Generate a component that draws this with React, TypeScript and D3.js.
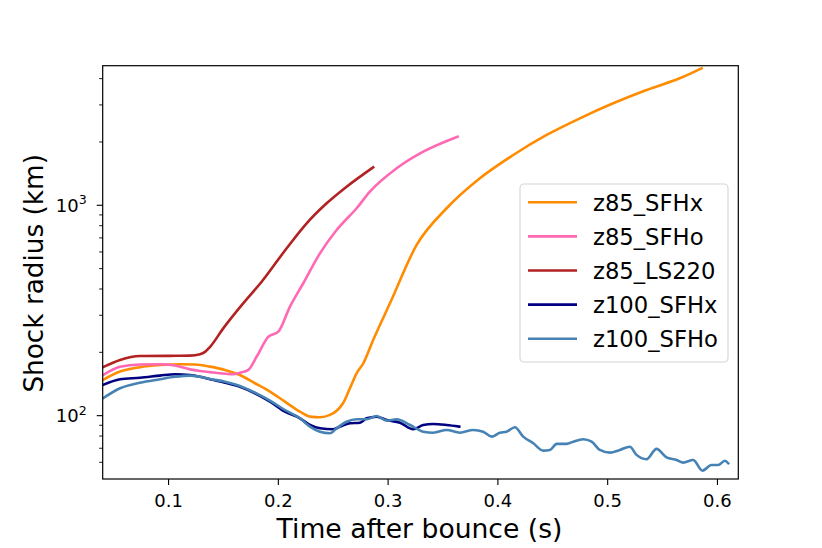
import React, { useRef, useEffect } from 'react';
import * as d3 from 'd3';

// shock radius curves (time in s, radius in km)
const z85SFHxTime = [0.0403, 0.0558, 0.074, 0.0922, 0.1104, 0.1241, 0.1377, 0.1514, 0.165, 0.1787, 0.1924, 0.206, 0.2197, 0.2288, 0.2379, 0.247, 0.2534, 0.2589, 0.2652, 0.2713, 0.2773, 0.2864, 0.3017, 0.326, 0.3533, 0.3836, 0.414, 0.4444, 0.4747, 0.505, 0.5354, 0.5656, 0.5855];
const z85SFHxRadius = [148, 162, 170, 174, 175.5, 175, 171, 165, 156, 142.6, 130, 116.6, 104.5, 99, 98.3, 100.8, 105.8, 114.6, 135, 159, 177, 229, 342, 648, 968, 1344, 1734, 2159, 2591, 3053, 3532, 4015, 4480];

const z85SFHoTime = [0.0403, 0.0558, 0.074, 0.0922, 0.1058, 0.1195, 0.1286, 0.1377, 0.1468, 0.1587, 0.165, 0.1726, 0.1803, 0.1908, 0.2, 0.2106, 0.2227, 0.2379, 0.2531, 0.2713, 0.2834, 0.3078, 0.332, 0.3633];
const z85SFHoRadius = [156, 171, 175, 175.5, 173, 166, 163, 161, 159, 157.4, 160, 165, 191, 237, 251, 330, 426, 591, 763, 968, 1160, 1499, 1798, 2119];

const z85LS220Time = [0.0403, 0.0558, 0.074, 0.1013, 0.1195, 0.1286, 0.1332, 0.1377, 0.1498, 0.168, 0.1848, 0.2076, 0.2258, 0.244, 0.2622, 0.2864];
const z85LS220Radius = [170, 184, 192, 192.5, 193, 196, 201, 212, 260, 342, 433, 625, 821, 1022, 1226, 1516];

const z100SFHxTime = [0.0403, 0.0558, 0.074, 0.0922, 0.1058, 0.1195, 0.1286, 0.1377, 0.1514, 0.165, 0.1787, 0.1924, 0.206, 0.2197, 0.2288, 0.2379, 0.25, 0.2561, 0.2652, 0.2743, 0.2804, 0.2895, 0.2987, 0.3108, 0.3229, 0.332, 0.3411, 0.3533, 0.3648];
const z100SFHxRadius = [140, 149, 151.5, 155, 157.4, 156, 153, 149, 143.5, 137.3, 127.8, 116.6, 104.5, 97.2, 90.3, 87.1, 86.2, 88.7, 92, 92.6, 97.2, 98.9, 95.4, 92.6, 86.2, 90.3, 91.3, 90.3, 88.7];

const z100SFHoTime = [0.0403, 0.0558, 0.074, 0.0922, 0.1058, 0.1195, 0.1286, 0.1377, 0.1514, 0.165, 0.1787, 0.1924, 0.206, 0.2197, 0.2288, 0.2379, 0.247, 0.2531, 0.2622, 0.2713, 0.2804, 0.2895, 0.2987, 0.3078, 0.3199, 0.332, 0.3411, 0.3533, 0.3654, 0.3775, 0.3866, 0.3943, 0.4018, 0.4079, 0.4155, 0.4231, 0.4322, 0.4413, 0.4474, 0.4535, 0.4626, 0.4686, 0.4777, 0.4854, 0.4929, 0.502, 0.5111, 0.5202, 0.5263, 0.5354, 0.5445, 0.5536, 0.5628, 0.5688, 0.5779, 0.5864, 0.5946, 0.6007, 0.6068, 0.6098];
const z100SFHoRadius = [121, 135, 143.5, 149, 153, 155, 153, 149.4, 145, 138.4, 128.6, 117.8, 106.4, 97.2, 88.7, 83.9, 82.5, 87.1, 93.6, 96.1, 96.1, 99.7, 94.7, 96.1, 90.3, 83.9, 83, 85.5, 83, 85.5, 83.9, 79.5, 83, 83.9, 88.1, 79.5, 73.9, 68.2, 68.7, 73.4, 73.4, 75.2, 77.2, 75.2, 68.7, 66.7, 68.7, 71.2, 65.1, 62.1, 69.5, 63.4, 61.6, 59.8, 61.6, 54.8, 58.3, 58.3, 61.1, 59.4];

const seriesNames = ['z85_SFHx', 'z85_SFHo', 'z85_LS220', 'z100_SFHx', 'z100_SFHo'];
const seriesColors = ['#ff8c00', '#ff69b4', '#b22222', '#000080', '#4682b4'];
const seriesTimes = [z85SFHxTime, z85SFHoTime, z85LS220Time, z100SFHxTime, z100SFHoTime];
const seriesRadii = [z85SFHxRadius, z85SFHoRadius, z85LS220Radius, z100SFHxRadius, z100SFHoRadius];

const xTicks = [0.1, 0.2, 0.3, 0.4, 0.5, 0.6];
const yMajorTicks = [100, 1000];
const yMinorTicks = [60, 70, 80, 90, 200, 300, 400, 500, 600, 700, 800, 900, 2000, 3000, 4000];

const FONT = '"DejaVu Sans", sans-serif';

const App: React.FC = () => {
    const svgRef = useRef<SVGSVGElement | null>(null);

    useEffect(() => {
        if (!svgRef.current) return;
        const svg = d3.select(svgRef.current);
        svg.selectAll('*').remove();

        const left = 102.7, right = 738.3, top = 65.7, bottom = 479;

        const x = d3.scaleLinear().domain([0.04, 0.619]).range([left, right]);
        const y = d3.scaleLog().domain([50, 4608]).range([bottom, top]);

        svg.append('rect').attr('width', 822).attr('height', 548).attr('fill', '#fff');

        svg.append('clipPath').attr('id', 'plotClip')
            .append('rect')
            .attr('x', left).attr('y', top)
            .attr('width', right - left).attr('height', bottom - top);

        // curves
        const line = d3.line<[number, number]>()
            .x(d => x(d[0]))
            .y(d => y(d[1]))
            .curve(d3.curveMonotoneX);

        const plot = svg.append('g').attr('clip-path', 'url(#plotClip)');
        seriesNames.forEach((name, i) => {
            const pts = seriesTimes[i].map((t, j) => [t, seriesRadii[i][j]] as [number, number]);
            plot.append('path')
                .datum(pts)
                .attr('d', line)
                .attr('fill', 'none')
                .attr('stroke', seriesColors[i])
                .attr('stroke-width', 2.6)
                .attr('stroke-linejoin', 'round')
                .attr('stroke-linecap', 'square');
        });

        // frame
        svg.append('rect')
            .attr('x', left).attr('y', top)
            .attr('width', right - left).attr('height', bottom - top)
            .attr('fill', 'none').attr('stroke', '#000').attr('stroke-width', 1.2);

        // x ticks
        const xt = svg.append('g');
        xTicks.forEach(t => {
            xt.append('line')
                .attr('x1', x(t)).attr('x2', x(t))
                .attr('y1', bottom).attr('y2', bottom + 6)
                .attr('stroke', '#000').attr('stroke-width', 1.1);
            xt.append('text')
                .attr('x', x(t)).attr('y', bottom + 27.5)
                .attr('text-anchor', 'middle')
                .attr('font-family', FONT).attr('font-size', 18)
                .text(t.toFixed(1));
        });

        // y ticks (log)
        const yt = svg.append('g');
        yMinorTicks.forEach(v => {
            yt.append('line')
                .attr('x1', left - 3.5).attr('x2', left)
                .attr('y1', y(v)).attr('y2', y(v))
                .attr('stroke', '#000').attr('stroke-width', 0.9);
        });
        yMajorTicks.forEach(v => {
            yt.append('line')
                .attr('x1', left - 6).attr('x2', left)
                .attr('y1', y(v)).attr('y2', y(v))
                .attr('stroke', '#000').attr('stroke-width', 1.1);
            const label = yt.append('text')
                .attr('x', left - 16).attr('y', y(v) + 6.4)
                .attr('text-anchor', 'end')
                .attr('font-family', FONT).attr('font-size', 18);
            label.append('tspan').text('10');
            label.append('tspan')
                .attr('dy', -7.5)
                .attr('font-size', 12.6)
                .text(String(Math.round(Math.log10(v))));
        });

        // axis labels
        svg.append('text')
            .attr('x', (left + right) / 2 - 1).attr('y', 538)
            .attr('text-anchor', 'middle')
            .attr('font-family', FONT).attr('font-size', 26.6)
            .text('Time after bounce (s)');

        svg.append('text')
            .attr('transform', `translate(43,${(top + bottom) / 2 + 1}) rotate(-90)`)
            .attr('text-anchor', 'middle')
            .attr('font-family', FONT).attr('font-size', 26.3)
            .text('Shock radius (km)');

        // legend
        const lg = svg.append('g');
        lg.append('rect')
            .attr('x', 520).attr('y', 184)
            .attr('width', 208).attr('height', 178)
            .attr('rx', 4).attr('ry', 4)
            .attr('fill', '#fff').attr('fill-opacity', 0.8)
            .attr('stroke', '#d3d3d3').attr('stroke-width', 1.1);

        const rows = lg.selectAll('.legend')
            .data(seriesNames)
            .enter().append('g')
            .attr('class', 'legend')
            .attr('transform', (d, i) => `translate(0,${202.3 + i * 34.1})`);

        rows.append('line')
            .attr('x1', 528).attr('x2', 577)
            .attr('y1', 0).attr('y2', 0)
            .attr('stroke', (d, i) => seriesColors[i])
            .attr('stroke-width', 2.6);

        rows.append('text')
            .attr('x', 593).attr('y', 8.3)
            .attr('font-family', FONT).attr('font-size', 22.7)
            .text(d => d);
    }, []);

    return (
        <svg ref={svgRef} width="822" height="548"
            style={{ position: 'absolute', left: 0, top: 0 }}></svg>
    );
};

export default App;
